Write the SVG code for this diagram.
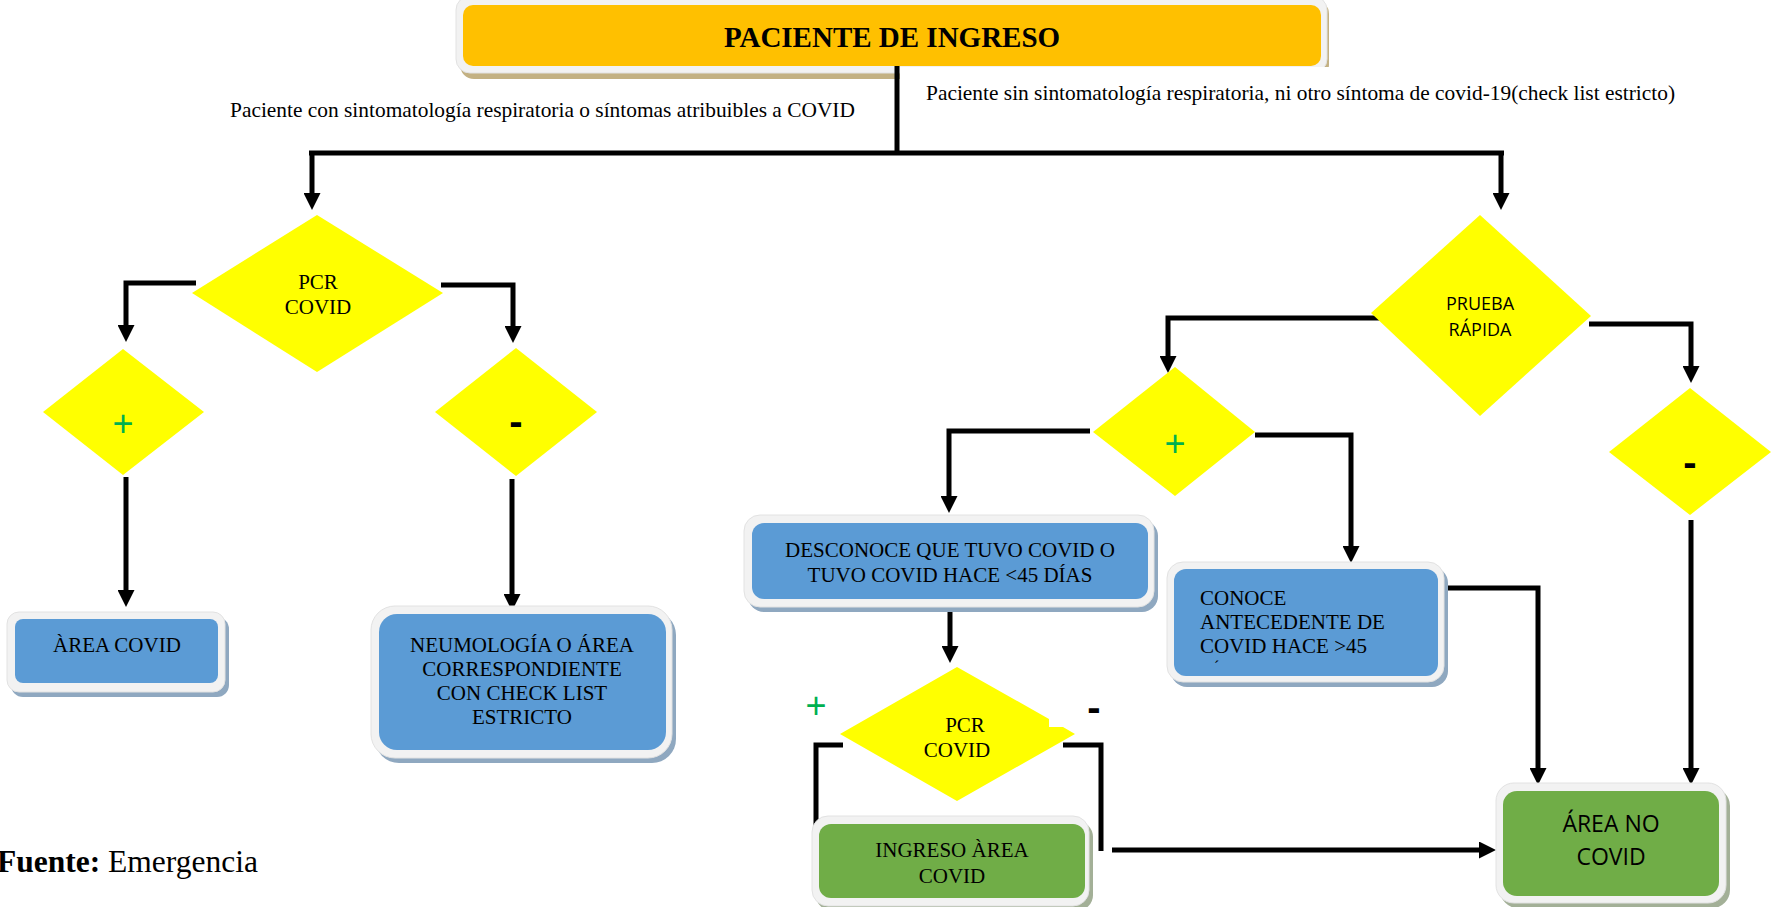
<svg xmlns="http://www.w3.org/2000/svg" width="1780" height="907" viewBox="0 0 1780 907">
  <defs>
    <style>
      .serif { font-family: "Liberation Serif", "Times New Roman", serif; fill: #000; }
      .sans { font-family: "Open Sans", "Noto Sans", sans-serif; fill: #000; }
      .boxtxt { font-size: 21px; text-anchor: middle; }
      .label { font-size: 21.4px; }
      .frame { fill: #F2F2F2; stroke: #E2E2E2; stroke-width: 1; }
      .sh-blue { fill: #8FA8C0; }
      .sh-green { fill: #A3B097; }
      .sh-tan { fill: #C3B183; }
      .blue { fill: #5B9BD5; }
      .green { fill: #70AD47; }
      .orange { fill: #FFC000; }
      .dia { fill: #FFFF00; }
      .plus { font-family: "Liberation Sans", Arial, sans-serif; font-size: 36px; fill: #00B050; text-anchor: middle; }
      .minus { font-family: "Liberation Sans", Arial, sans-serif; font-size: 40px; font-weight: bold; fill: #000; text-anchor: middle; }
      .conn { fill: none; stroke: #000; stroke-width: 5; stroke-linejoin: miter; stroke-linecap: butt; }
      .arrow { marker-end: url(#head); }
    </style>
    <marker id="head" markerUnits="userSpaceOnUse" markerWidth="17" markerHeight="17" refX="4" refY="8.5" orient="auto">
      <path d="M0,0 L17,8.5 L0,17 Z" fill="#000"/>
    </marker>
  </defs>

  <rect x="0" y="0" width="1780" height="907" fill="#FFFFFF"/>

  <!-- Start node -->
  <g id="inicio">
    <rect class="sh-tan" x="460" y="0" width="869" height="79" rx="14"/>
    <rect class="frame" x="456" y="-4" width="871" height="77" rx="14"/>
    <rect class="orange" x="463" y="5" width="858" height="61" rx="10"/>
    <text class="serif" x="892" y="47" font-size="29" font-weight="bold" text-anchor="middle">PACIENTE DE INGRESO</text>
  </g>

  <!-- Branch labels -->
  <g id="etiqueta-con-sintomas">
    <text class="serif label" x="230" y="117">Paciente con sintomatología respiratoria o síntomas atribuibles a COVID</text>
  </g>
  <g id="etiqueta-sin-sintomas">
    <rect x="900" y="67" width="440" height="38" fill="#FFFFFF"/>
    <text class="serif label" x="926" y="100">Paciente sin sintomatología respiratoria, ni otro síntoma de covid-19(check list estricto)</text>
  </g>

  <!-- Connectors -->
  <g id="conectores">
    <path class="conn" d="M897,66 V153"/>
    <path class="conn" d="M309,153 H1504"/>
    <path class="conn arrow" d="M312,153 V197"/>
    <path class="conn arrow" d="M1501,153 V197"/>
    <path class="conn arrow" d="M196,283 H126 V329"/>
    <path class="conn arrow" d="M441,285 H513 V330"/>
    <path class="conn arrow" d="M126,477 V594"/>
    <path class="conn arrow" d="M512,479 V598"/>
    <path class="conn arrow" d="M1381,318 H1168 V360"/>
    <path class="conn arrow" d="M1589,324 H1691 V370"/>
    <path class="conn arrow" d="M1090,431 H949 V500"/>
    <path class="conn arrow" d="M1255,435 H1351 V550"/>
    <path class="conn arrow" d="M1691,520 V772"/>
    <path class="conn arrow" d="M950,603 V650"/>
    <path class="conn arrow" d="M1444,588 H1538 V772"/>
    <path class="conn" d="M843,745 H816 V851"/>
    <path class="conn" d="M1063,745 H1101 V851"/>
    <path class="conn arrow" d="M1112,850 H1483"/>
  </g>

  <!-- Left branch -->
  <g id="pcr-covid-1">
    <polygon class="dia" points="317,215 443,293 317,372 192,293"/>
    <text class="serif" x="318" y="289" font-size="21" text-anchor="middle">PCR</text>
    <text class="serif" x="318" y="314" font-size="21" text-anchor="middle">COVID</text>
  </g>
  <g id="pcr1-positivo">
    <polygon class="dia" points="123,349 204,412 123,475 43,412"/>
    <text class="plus" x="123" y="436">+</text>
  </g>
  <g id="pcr1-negativo">
    <polygon class="dia" points="516,348 597,412 516,476 435,412"/>
    <text class="minus" x="516" y="435">-</text>
  </g>
  <g id="area-covid">
    <rect class="sh-blue" x="11" y="617" width="218" height="80" rx="12"/>
    <rect class="frame" x="7" y="612" width="218" height="80" rx="12"/>
    <rect class="blue" x="15" y="619" width="203" height="64" rx="8"/>
    <text class="serif boxtxt" x="117" y="652">ÀREA COVID</text>
  </g>
  <g id="neumologia">
    <rect class="sh-blue" x="375" y="611" width="301" height="152" rx="24"/>
    <rect class="frame" x="371" y="606" width="301" height="152" rx="24"/>
    <rect class="blue" x="379" y="614" width="287" height="136" rx="18"/>
    <text class="serif boxtxt" x="522" y="652">NEUMOLOGÍA O ÁREA</text>
    <text class="serif boxtxt" x="522" y="676">CORRESPONDIENTE</text>
    <text class="serif boxtxt" x="522" y="700">CON CHECK LIST</text>
    <text class="serif boxtxt" x="522" y="724">ESTRICTO</text>
  </g>

  <!-- Right branch -->
  <g id="prueba-rapida">
    <polygon class="dia" points="1480,215 1591,316 1480,416 1371,313"/>
    <text class="sans" x="1480" y="310" font-size="18" text-anchor="middle">PRUEBA</text>
    <text class="sans" x="1480" y="336" font-size="18" text-anchor="middle">RÁPIDA</text>
  </g>
  <g id="prueba-positivo">
    <polygon class="dia" points="1175,367 1255,432 1175,496 1093,432"/>
    <text class="plus" x="1175" y="456">+</text>
  </g>
  <g id="prueba-negativo">
    <polygon class="dia" points="1690,388 1771,452 1690,515 1609,452"/>
    <text class="minus" x="1690" y="476">-</text>
  </g>
  <g id="desconoce">
    <rect class="sh-blue" x="748" y="520" width="410" height="92" rx="16"/>
    <rect class="frame" x="744" y="515" width="410" height="92" rx="16"/>
    <rect class="blue" x="752" y="523" width="396" height="76" rx="12"/>
    <text class="serif boxtxt" x="950" y="557">DESCONOCE QUE TUVO COVID O</text>
    <text class="serif boxtxt" x="950" y="582">TUVO COVID HACE &lt;45 DÍAS</text>
  </g>
  <g id="conoce">
    <rect class="sh-blue" x="1171" y="567" width="277" height="120" rx="16"/>
    <rect class="frame" x="1167" y="562" width="277" height="120" rx="16"/>
    <rect class="blue" x="1174" y="569" width="264" height="107" rx="12"/>
    <text class="serif" x="1200" y="605" font-size="21">CONOCE</text>
    <text class="serif" x="1200" y="629" font-size="21">ANTECEDENTE DE</text>
    <text class="serif" x="1200" y="653" font-size="21">COVID HACE &gt;45</text>
    <text class="serif" x="1214" y="672" font-size="16">´</text>
  </g>
  <g id="pcr-covid-2">
    <polygon class="dia" points="957,667 1049,719 1049,727 1063,727 1075,734 957,801 840,734"/>
    <text class="serif" x="965" y="732" font-size="21" text-anchor="middle">PCR</text>
    <text class="serif" x="957" y="757" font-size="21" text-anchor="middle">COVID</text>
    <text class="plus" x="816" y="718">+</text>
    <text class="minus" x="1094" y="721">-</text>
  </g>
  <g id="ingreso-area-covid">
    <rect class="sh-green" x="816" y="821" width="277" height="90" rx="16"/>
    <rect class="frame" x="812" y="816" width="277" height="90" rx="16"/>
    <rect class="green" x="819" y="824" width="266" height="74" rx="12"/>
    <text class="serif boxtxt" x="952" y="857">INGRESO ÀREA</text>
    <text class="serif boxtxt" x="952" y="883">COVID</text>
  </g>
  <g id="area-no-covid">
    <rect class="sh-green" x="1500" y="788" width="230" height="120" rx="18"/>
    <rect class="frame" x="1496" y="783" width="230" height="120" rx="18"/>
    <rect class="green" x="1503" y="791" width="216" height="105" rx="14"/>
    <text class="sans" x="1611" y="832" font-size="23" text-anchor="middle">ÁREA NO</text>
    <text class="sans" x="1611" y="865" font-size="23" text-anchor="middle">COVID</text>
  </g>

  <!-- Source note -->
  <g id="fuente">
    <text class="serif" x="-3" y="872" font-size="31.5"><tspan font-weight="bold">Fuente:</tspan> Emergencia</text>
  </g>
</svg>
